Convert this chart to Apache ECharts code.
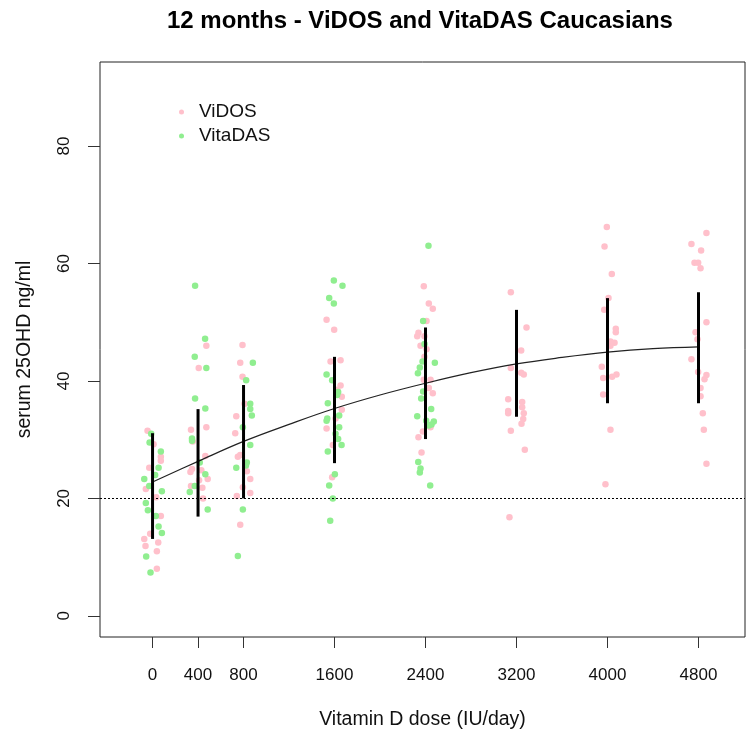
<!DOCTYPE html>
<html>
<head>
<meta charset="utf-8">
<script src="https://cdn.jsdelivr.net/npm/echarts@6/dist/echarts.min.js"></script>
<style>
html,body{margin:0;padding:0;background:#fff;}
#chart{width:754px;height:742px;}
</style>
</head>
<body>
<div id="chart"></div>
<script>
// ---- data ----
const chartTitle = '12 months - ViDOS and VitaDAS Caucasians';
const xTitle = 'Vitamin D dose (IU/day)';
const yTitle = 'serum 25OHD ng/ml';
const xTicks = [0, 400, 800, 1600, 2400, 3200, 4000, 4800];
const yTicks = [0, 20, 40, 60, 80];
const threshold = 20;

// ViDOS points [jittered dose, serum 25OHD]
const vidos = [
  [-44,31.5],[9,29.2],[73,27.1],[73,26.4],[-29,25.2],[-59,21.6],[32,20.2],[73,17.0],[-21,14.0],[-73,13.1],[-62,11.9],[50,12.5],[38,11.0],[38,8.0],
  [473,46.0],[406,42.2],[338,31.7],[473,32.1],[353,29.7],[464,27.2],[347,25.0],[333,24.5],[429,24.8],[409,23.1],[485,23.3],[338,22.1],[438,21.8],[444,20.0],
  [809,36.1],[736,34.0],[727,31.1],[750,27.1],[771,27.4],[829,24.6],[859,23.3],[794,21.9],[859,20.9],[741,20.4],[771,15.5],[791,46.1],[771,43.1],[791,40.7],
  [1530,50.4],[1597,48.7],[1565,43.3],[1653,43.5],[1653,39.2],[1664,37.3],[1623,38.5],[1664,35.1],[1609,33.6],[1530,31.9],[1585,29.1],[1579,23.6],
  [2385,56.1],[2429,53.2],[2464,52.3],[2409,50.2],[2338,48.2],[2327,47.6],[2391,47.6],[2356,46.0],[2409,45.4],[2391,44.1],[2385,40.2],[2444,40.2],[2429,38.8],[2464,37.9],[2377,31.4],[2444,32.1],[2338,30.4],[2365,27.8],
  [3150,55.1],[3288,49.1],[3241,45.2],[3150,42.2],[3241,41.4],[3264,41.1],[3127,36.9],[3127,34.9],[3127,34.5],[3250,36.4],[3250,35.5],[3264,34.5],[3259,33.5],[3244,32.7],[3150,31.5],[3273,28.3],[3138,16.8],
  [3994,66.2],[3974,62.9],[4038,58.2],[4009,54.1],[3971,52.1],[4073,48.9],[4073,48.3],[4026,46.7],[4062,46.5],[4026,46.0],[3950,42.4],[3962,40.5],[4041,40.7],[4079,41.1],[3962,37.7],[4026,31.7],[3982,22.4],
  [4870,65.2],[4738,63.3],[4823,62.2],[4765,60.1],[4797,60.1],[4818,59.2],[4870,50.0],[4774,48.3],[4791,47.1],[4738,43.7],[4797,41.5],[4870,41.0],[4853,40.3],[4818,38.8],[4818,37.4],[4838,34.5],[4847,31.7],[4870,25.9]
];

// VitaDAS points [jittered dose, serum 25OHD]
const vitadas = [
  [-12,31.0],[-26,29.5],[73,28.0],[53,25.2],[-73,23.3],[-29,22.1],[23,24.0],[82,21.2],[-59,19.2],[-41,18.0],[29,17.0],[53,15.2],[82,14.1],[-56,10.1],[-18,7.4],
  [374,56.2],[462,47.2],[371,44.1],[473,42.2],[374,37.0],[464,35.3],[347,30.2],[347,29.8],[415,26.1],[464,24.1],[371,22.1],[327,21.1],[485,18.1],
  [823,40.1],[859,36.1],[859,35.2],[873,34.1],[794,32.1],[859,29.1],[829,26.1],[821,25.6],[736,25.2],[794,18.1],[750,10.2],[882,43.1],
  [1594,57.1],[1670,56.2],[1553,54.1],[1594,53.2],[1530,41.1],[1579,40.1],[1632,38.1],[1623,37.6],[1541,36.2],[1641,34.1],[1536,33.6],[1530,33.2],[1641,32.1],[1609,31.0],[1632,30.1],[1662,29.1],[1541,28.0],[1603,24.1],[1553,22.2],[1585,20.0],[1562,16.2],
  [2426,63.0],[2379,50.2],[2391,46.3],[2350,42.3],[2333,41.3],[2374,43.3],[2482,43.1],[2379,38.2],[2362,37.0],[2450,35.2],[2327,34.0],[2406,33.2],[2473,33.1],[2453,32.6],[2429,32.4],[2336,26.2],[2356,25.1],[2350,24.4],[2441,22.2]
];

// Error bars (mean +/- SD) per dose
const barDose = [0, 400, 800, 1600, 2400, 3200, 4000, 4800];
const barLow  = [13.1, 16.9, 20.0, 26.0, 30.1, 33.9, 36.2, 36.2];
const barHigh = [31.1, 35.2, 39.3, 44.1, 49.1, 52.1, 54.1, 55.1];

// Fitted curve values
const curveDose = [0, 400, 800, 1200, 1600, 2000, 2400, 2800, 3200, 3600, 4000, 4400, 4800];
const curveVal  = [22.8, 26.3, 29.7, 32.6, 35.3, 37.6, 39.6, 41.4, 42.9, 44.0, 44.9, 45.5, 45.8];

// ---- chart ----
const FONT = '"Liberation Sans", Arial, sans-serif';
const chart = echarts.init(document.getElementById('chart'), null, {renderer: 'canvas'});

const barData = barDose.map((d, i) => [d, barLow[i], barHigh[i]]);
const curveData = curveDose.map((d, i) => [d, curveVal[i]]);

chart.setOption({
  animation: false,
  backgroundColor: '#fff',
  textStyle: {fontFamily: FONT},
  title: {
    text: chartTitle,
    left: 167,
    top: 0,
    padding: [9, 0, 0, 0],
    textStyle: {fontFamily: FONT, fontSize: 24, fontWeight: 'bold', color: '#000'}
  },
  legend: {
    orient: 'vertical',
    left: 179,
    top: 102,
    padding: 0,
    itemGap: 4,
    itemWidth: 25,
    itemHeight: 5,
    icon: 'circle',
    data: ['ViDOS', 'VitaDAS'],
    textStyle: {fontFamily: FONT, fontSize: 19, color: '#111', lineHeight: 20}
  },
  grid: {
    left: 100, right: 9, top: 62, bottom: 105,
    show: true, borderColor: '#222', borderWidth: 1, backgroundColor: 'transparent'
  },
  xAxis: {
    type: 'value',
    min: -462, max: 5209,
    axisLine: {show: false, onZero: false},
    splitLine: {show: false},
    axisTick: {show: true, customValues: xTicks, length: 11, lineStyle: {color: '#333', width: 1}},
    axisLabel: {customValues: xTicks, margin: 30, fontSize: 17, color: '#111', fontFamily: FONT,
      formatter: v => String(v)},
    name: xTitle,
    nameLocation: 'middle',
    nameGap: 73,
    nameTextStyle: {fontFamily: FONT, fontSize: 19.5, color: '#111'}
  },
  yAxis: {
    type: 'value',
    min: -3.6, max: 94.3,
    axisLine: {show: false, onZero: false},
    splitLine: {show: false},
    axisTick: {show: true, customValues: yTicks, length: 12, lineStyle: {color: '#333', width: 1}},
    axisLabel: {customValues: yTicks, rotate: 90, margin: 27, fontSize: 17, color: '#111', fontFamily: FONT,
      formatter: v => String(v)},
    name: yTitle,
    nameLocation: 'middle',
    nameRotate: 90,
    nameGap: 65,
    nameTextStyle: {fontFamily: FONT, fontSize: 19.5, color: '#111'}
  },
  series: [
    {
      name: 'ViDOS', type: 'scatter', data: vidos, symbol: 'circle', symbolSize: 6.5,
      itemStyle: {color: '#FFC0CB', opacity: 1}, z: 2,
      markLine: {
        silent: true, symbol: 'none', label: {show: false},
        lineStyle: {color: '#000', width: 1, type: [2, 2]},
        data: [{yAxis: threshold}]
      }
    },
    {
      name: 'VitaDAS', type: 'scatter', data: vitadas, symbol: 'circle', symbolSize: 6.5,
      itemStyle: {color: '#90EE90', opacity: 1}, z: 3
    },
    {
      name: 'fit', type: 'line', data: curveData, smooth: 0.4, showSymbol: false,
      lineStyle: {color: '#222', width: 1.2}, z: 4
    },
    {
      name: 'sd', type: 'custom', data: barData, z: 5,
      encode: {x: 0, y: [1, 2]},
      renderItem: function (params, api) {
        const x = api.value(0);
        const p1 = api.coord([x, api.value(1)]);
        const p2 = api.coord([x, api.value(2)]);
        return {type: 'line', shape: {x1: p1[0], y1: p1[1], x2: p2[0], y2: p2[1]},
          style: {stroke: '#000', lineWidth: 3}};
      }
    }
  ]
});
</script>
</body>
</html>
